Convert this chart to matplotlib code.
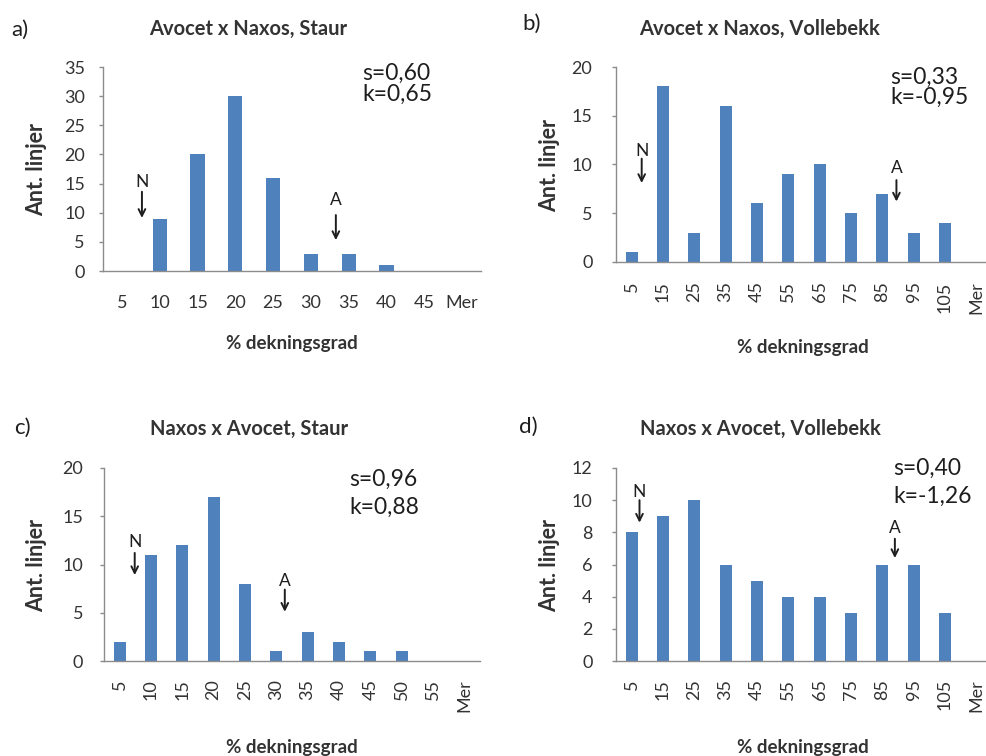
import matplotlib
matplotlib.use("Agg")
import matplotlib.pyplot as plt

plt.rcParams['font.family'] = ['Lato', 'DejaVu Sans']

# ---- data ----
cats_a = ['5', '10', '15', '20', '25', '30', '35', '40', '45', 'Mer']
vals_a = [0, 9, 20, 30, 16, 3, 3, 1, 0, 0]

cats_b = ['5', '15', '25', '35', '45', '55', '65', '75', '85', '95', '105', 'Mer']
vals_b = [1, 18, 3, 16, 6, 9, 10, 5, 7, 3, 4, 0]

cats_c = ['5', '10', '15', '20', '25', '30', '35', '40', '45', '50', '55', 'Mer']
vals_c = [2, 11, 12, 17, 8, 1, 3, 2, 1, 1, 0, 0]

cats_d = ['5', '15', '25', '35', '45', '55', '65', '75', '85', '95', '105', 'Mer']
vals_d = [8, 9, 10, 6, 5, 4, 4, 3, 6, 6, 3, 0]

titles = ['Avocet x Naxos, Staur', 'Avocet x Naxos, Vollebekk',
          'Naxos x Avocet, Staur', 'Naxos x Avocet, Vollebekk']
panel_labels = ['a)', 'b)', 'c)', 'd)']
skew = ['s=0,60', 's=0,33', 's=0,96', 's=0,40']
kurt = ['k=0,65', 'k=-0,95', 'k=0,88', 'k=-1,26']
ymax = [35, 20, 20, 12]
ystep = [5, 5, 5, 2]
xlabel = '% dekningsgrad'
ylabel = 'Ant. linjer'

W, H = 987, 756
BAR = '#4F81BD'
AX = '#8C8C8C'
TXT = '#333333'
DARK = '#1E1E1E'

fig = plt.figure(figsize=(W / 100, H / 100), dpi=100)
fig.patch.set_facecolor('white')


def fx(x):
    return x / W


def fy(y):
    return 1 - y / H


def add_ax(left, top, right, bottom):
    return fig.add_axes([left / W, 1 - bottom / H, (right - left) / W, (bottom - top) / H])


# layout (pixels): axes box, title centre, panel label, stats text, axis-label positions
layout = [
    dict(box=(103, 67, 481, 271), title=(248, 29), plab=(20, 30), s=(362, 73), k=(362, 94),
         xl=(292, 343), yl=(37, 169), rot=0, ypad=10, xpad=17),
    dict(box=(616, 67, 992, 262), title=(760, 29), plab=(532, 24), s=(890, 77), k=(890, 97),
         xl=(803, 348), yl=(550, 165), rot=90, ypad=14, xpad=14),
    dict(box=(104, 468, 480, 661), title=(249, 429), plab=(22, 428), s=(349, 479), k=(349, 507),
         xl=(292, 747), yl=(37, 565), rot=90, ypad=12, xpad=13),
    dict(box=(616, 468, 992, 661), title=(760, 429), plab=(528, 427), s=(893, 468), k=(893, 496),
         xl=(803, 747), yl=(550, 565), rot=90, ypad=14, xpad=13),
]

# N / A arrows: (x, text_y, arrow_start_y, arrow_tip_y) in data coordinates
arrows = [
    [('N', 0.53, 15.3, 13.6, 9.1), ('A', 5.66, 12.2, 9.6, 5.3)],
    [('N', 0.32, 11.4, 10.6, 8.1), ('A', 8.45, 9.6, 8.4, 6.2)],
    [('N', 0.48, 12.3, 11.2, 8.9), ('A', 5.27, 8.3, 7.4, 5.1)],
    [('N', 0.25, 10.5, 10.0, 8.6), ('A', 8.40, 8.3, 7.6, 6.4)],
]

all_cats = [cats_a, cats_b, cats_c, cats_d]
all_vals = [vals_a, vals_b, vals_c, vals_d]

for i in range(4):
    L = layout[i]
    ax = add_ax(*L['box'])
    cats, vals = all_cats[i], all_vals[i]
    xs = list(range(len(cats)))
    ax.bar(xs, vals, width=0.38, color=BAR, edgecolor='none', zorder=2)
    ax.set_xlim(-0.5, len(cats) - 0.5)
    ax.set_ylim(0, ymax[i])
    ax.set_yticks(list(range(0, ymax[i] + 1, ystep[i])))
    ax.set_xticks(xs)
    ax.set_xticklabels(cats, rotation=L['rot'], fontsize=13, color=TXT)
    for sp in ['top', 'right']:
        ax.spines[sp].set_visible(False)
    for sp in ['left', 'bottom']:
        ax.spines[sp].set_color(AX)
        ax.spines[sp].set_linewidth(1.0)
    ax.tick_params(axis='y', length=3, width=1, color=AX, pad=L['ypad'], labelsize=13, labelcolor=TXT)
    ax.tick_params(axis='x', length=0, pad=L['xpad'], labelsize=13, labelcolor=TXT)
    ax.set_facecolor('none')

    for (lab, x, ty, y0, y1) in arrows[i]:
        ax.text(x, ty, lab, ha='center', va='center', fontsize=12.5, color=DARK)
        ax.annotate('', xy=(x, y1), xytext=(x, y0),
                    arrowprops=dict(arrowstyle='->', lw=1.4, color=DARK,
                                    shrinkA=0, shrinkB=0, mutation_scale=12))

    fig.text(fx(L['title'][0]), fy(L['title'][1]), titles[i], ha='center', va='center',
             fontsize=14.5, fontweight='bold', color=TXT)
    fig.text(fx(L['plab'][0]), fy(L['plab'][1]), panel_labels[i], ha='center', va='center',
             fontsize=16, color=DARK)
    fig.text(fx(L['s'][0]), fy(L['s'][1]), skew[i], ha='left', va='center', fontsize=16.5, color=DARK)
    fig.text(fx(L['k'][0]), fy(L['k'][1]), kurt[i], ha='left', va='center', fontsize=16.5, color=DARK)
    fig.text(fx(L['xl'][0]), fy(L['xl'][1]), xlabel, ha='center', va='center',
             fontsize=13.5, fontweight='bold', color=TXT)
    fig.text(fx(L['yl'][0]), fy(L['yl'][1]), ylabel, ha='center', va='center', rotation=90,
             fontsize=15.5, fontweight='bold', color=TXT)

fig.savefig('out.png', dpi=100, facecolor='white')
